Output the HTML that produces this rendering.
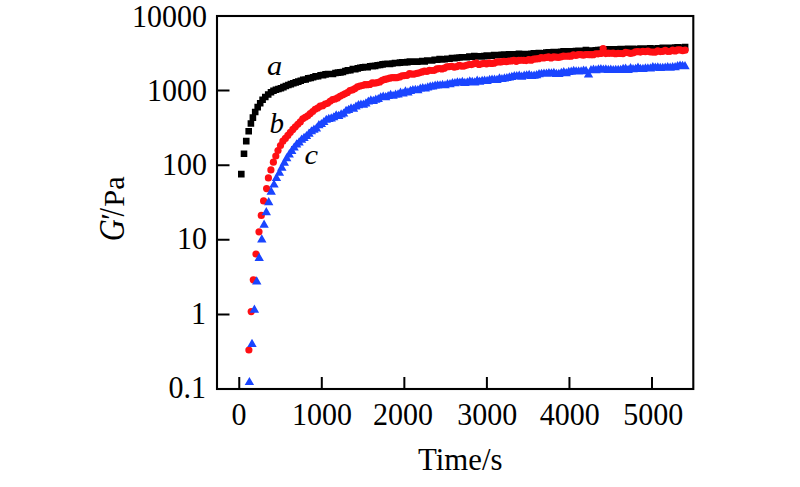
<!DOCTYPE html>
<html><head><meta charset="utf-8"><title>G' vs Time</title>
<style>
html,body{margin:0;padding:0;background:#fff;}
body{width:800px;height:487px;overflow:hidden;}
svg{display:block;}
svg text{font-family:"Liberation Serif",serif;fill:#000;}
</style></head><body>
<svg width="800" height="487" viewBox="0 0 800 487">
<rect width="800" height="487" fill="#fff"/>
<rect x="217" y="16" width="476.29999999999995" height="373" fill="none" stroke="#000" stroke-width="2.1"/>
<path d="M217 90.60h12.5M217 165.20h12.5M217 239.80h12.5M217 314.40h12.5M239.25 389v-12M321.80 389v-12M404.35 389v-12M486.90 389v-12M569.45 389v-12M652.00 389v-12" stroke="#000" stroke-width="2" fill="none"/>
<text transform="translate(207 26.90) scale(1 1.05)" text-anchor="end" font-size="30.0">10000</text>
<text transform="translate(207 101.05) scale(1 1.05)" text-anchor="end" font-size="30.0">1000</text>
<text transform="translate(207 175.20) scale(1 1.05)" text-anchor="end" font-size="30.0">100</text>
<text transform="translate(207 249.35) scale(1 1.05)" text-anchor="end" font-size="30.0">10</text>
<text transform="translate(205.9 323.50) scale(1 1.05)" text-anchor="end" font-size="30.0">1</text>
<text transform="translate(205.9 397.65) scale(1 1.05)" text-anchor="end" font-size="30.0">0.1</text>
<text transform="translate(238.95 425.2) scale(1 1.05)" text-anchor="middle" font-size="30.0">0</text>
<text transform="translate(322.00 425.2) scale(1 1.05)" text-anchor="middle" font-size="30.0">1000</text>
<text transform="translate(402.95 425.2) scale(1 1.05)" text-anchor="middle" font-size="30.0">2000</text>
<text transform="translate(487.20 425.2) scale(1 1.05)" text-anchor="middle" font-size="30.0">3000</text>
<text transform="translate(569.65 425.2) scale(1 1.05)" text-anchor="middle" font-size="30.0">4000</text>
<text transform="translate(653.20 425.2) scale(1 1.05)" text-anchor="middle" font-size="30.0">5000</text>
<text x="460.2" y="469.8" text-anchor="middle" font-size="30.8">Time/s</text>
<g transform="translate(124.2 240.2) rotate(-90)" font-size="30.4"><text transform="scale(1 1.2)" x="-1" y="0" font-style="italic">G</text><text x="18.6" y="-3.5" font-style="italic">′</text><text transform="scale(1 1.2)" x="23.6" y="0">/</text><text x="33.4" y="0">P</text><text x="50.4" y="0">a</text></g>
<text transform="translate(267 75.2) scale(1.05 0.91)" font-size="29" font-style="italic">a</text>
<text x="269.5" y="132.6" font-size="29" font-style="italic">b</text>
<text transform="translate(304.6 163.6) scale(1.05 0.91)" font-size="29" font-style="italic">c</text>
<path d="M238.00 170.80h6.6v6.6h-6.6zM240.70 150.40h6.6v6.6h-6.6zM242.95 137.80h6.6v6.6h-6.6zM245.40 127.90h6.6v6.6h-6.6zM247.60 120.20h6.6v6.6h-6.6zM249.60 114.30h6.6v6.6h-6.6zM251.90 108.70h6.6v6.6h-6.6zM254.40 103.80h6.6v6.6h-6.6zM256.90 99.90h6.6v6.6h-6.6zM259.30 96.40h6.6v6.6h-6.6zM262.00 93.70h6.6v6.6h-6.6zM264.90 91.20h6.6v6.6h-6.6zM267.70 89.00h6.6v6.6h-6.6zM270.18 87.50h6.6v6.6h-6.6zM272.66 86.52h6.6v6.6h-6.6zM275.14 85.73h6.6v6.6h-6.6zM277.62 84.89h6.6v6.6h-6.6zM280.10 83.85h6.6v6.6h-6.6zM282.58 82.73h6.6v6.6h-6.6zM285.06 81.70h6.6v6.6h-6.6zM287.54 80.79h6.6v6.6h-6.6zM290.02 79.91h6.6v6.6h-6.6zM292.50 79.08h6.6v6.6h-6.6zM294.98 78.29h6.6v6.6h-6.6zM297.46 77.38h6.6v6.6h-6.6zM299.94 76.50h6.6v6.6h-6.6zM302.41 76.19h6.6v6.6h-6.6zM304.89 75.03h6.6v6.6h-6.6zM307.37 74.74h6.6v6.6h-6.6zM309.85 73.97h6.6v6.6h-6.6zM312.33 73.12h6.6v6.6h-6.6zM314.81 72.91h6.6v6.6h-6.6zM317.29 71.98h6.6v6.6h-6.6zM319.77 71.79h6.6v6.6h-6.6zM322.25 71.07h6.6v6.6h-6.6zM324.73 70.73h6.6v6.6h-6.6zM327.21 70.68h6.6v6.6h-6.6zM329.69 70.67h6.6v6.6h-6.6zM332.17 69.72h6.6v6.6h-6.6zM334.65 69.30h6.6v6.6h-6.6zM337.13 69.05h6.6v6.6h-6.6zM339.61 68.69h6.6v6.6h-6.6zM342.09 67.77h6.6v6.6h-6.6zM344.57 67.04h6.6v6.6h-6.6zM347.05 66.99h6.6v6.6h-6.6zM349.53 65.76h6.6v6.6h-6.6zM352.01 65.95h6.6v6.6h-6.6zM354.49 65.04h6.6v6.6h-6.6zM356.97 64.50h6.6v6.6h-6.6zM359.45 64.05h6.6v6.6h-6.6zM361.93 63.80h6.6v6.6h-6.6zM364.41 63.80h6.6v6.6h-6.6zM366.89 62.90h6.6v6.6h-6.6zM369.37 62.85h6.6v6.6h-6.6zM371.84 62.53h6.6v6.6h-6.6zM374.32 61.96h6.6v6.6h-6.6zM376.80 61.77h6.6v6.6h-6.6zM379.28 61.05h6.6v6.6h-6.6zM381.76 60.74h6.6v6.6h-6.6zM384.24 60.55h6.6v6.6h-6.6zM386.72 60.63h6.6v6.6h-6.6zM389.20 60.14h6.6v6.6h-6.6zM391.68 59.76h6.6v6.6h-6.6zM394.16 59.69h6.6v6.6h-6.6zM396.64 59.31h6.6v6.6h-6.6zM399.12 58.93h6.6v6.6h-6.6zM401.60 59.09h6.6v6.6h-6.6zM404.08 58.82h6.6v6.6h-6.6zM406.56 58.29h6.6v6.6h-6.6zM409.04 58.42h6.6v6.6h-6.6zM411.52 58.25h6.6v6.6h-6.6zM414.00 58.41h6.6v6.6h-6.6zM416.48 58.17h6.6v6.6h-6.6zM418.96 57.67h6.6v6.6h-6.6zM421.44 58.06h6.6v6.6h-6.6zM423.92 57.17h6.6v6.6h-6.6zM426.40 57.17h6.6v6.6h-6.6zM428.88 57.19h6.6v6.6h-6.6zM431.36 56.44h6.6v6.6h-6.6zM433.84 56.45h6.6v6.6h-6.6zM436.32 55.84h6.6v6.6h-6.6zM438.80 56.08h6.6v6.6h-6.6zM441.27 55.90h6.6v6.6h-6.6zM443.75 55.48h6.6v6.6h-6.6zM446.23 55.46h6.6v6.6h-6.6zM448.71 54.76h6.6v6.6h-6.6zM451.19 54.82h6.6v6.6h-6.6zM453.67 54.50h6.6v6.6h-6.6zM456.15 54.24h6.6v6.6h-6.6zM458.63 53.91h6.6v6.6h-6.6zM461.11 54.01h6.6v6.6h-6.6zM463.59 53.90h6.6v6.6h-6.6zM466.07 53.35h6.6v6.6h-6.6zM468.55 53.36h6.6v6.6h-6.6zM471.03 52.73h6.6v6.6h-6.6zM473.51 53.11h6.6v6.6h-6.6zM475.99 52.94h6.6v6.6h-6.6zM478.47 53.10h6.6v6.6h-6.6zM480.95 52.84h6.6v6.6h-6.6zM483.43 52.30h6.6v6.6h-6.6zM485.91 52.27h6.6v6.6h-6.6zM488.39 52.39h6.6v6.6h-6.6zM490.87 51.76h6.6v6.6h-6.6zM493.35 52.00h6.6v6.6h-6.6zM495.83 51.65h6.6v6.6h-6.6zM498.31 51.48h6.6v6.6h-6.6zM500.79 51.29h6.6v6.6h-6.6zM503.27 51.71h6.6v6.6h-6.6zM505.75 51.05h6.6v6.6h-6.6zM508.23 51.01h6.6v6.6h-6.6zM510.70 51.00h6.6v6.6h-6.6zM513.18 51.27h6.6v6.6h-6.6zM515.66 50.54h6.6v6.6h-6.6zM518.14 50.74h6.6v6.6h-6.6zM520.62 50.73h6.6v6.6h-6.6zM523.10 50.89h6.6v6.6h-6.6zM525.58 50.71h6.6v6.6h-6.6zM528.06 50.61h6.6v6.6h-6.6zM530.54 49.98h6.6v6.6h-6.6zM533.02 49.92h6.6v6.6h-6.6zM535.50 49.71h6.6v6.6h-6.6zM537.98 49.98h6.6v6.6h-6.6zM540.46 49.90h6.6v6.6h-6.6zM542.94 49.13h6.6v6.6h-6.6zM545.42 49.03h6.6v6.6h-6.6zM547.90 48.96h6.6v6.6h-6.6zM550.38 48.85h6.6v6.6h-6.6zM552.86 48.92h6.6v6.6h-6.6zM555.34 48.87h6.6v6.6h-6.6zM557.82 48.45h6.6v6.6h-6.6zM560.30 48.09h6.6v6.6h-6.6zM562.78 48.25h6.6v6.6h-6.6zM565.26 48.05h6.6v6.6h-6.6zM567.74 48.05h6.6v6.6h-6.6zM570.22 48.21h6.6v6.6h-6.6zM572.70 47.87h6.6v6.6h-6.6zM575.18 47.59h6.6v6.6h-6.6zM577.66 47.55h6.6v6.6h-6.6zM580.13 47.47h6.6v6.6h-6.6zM582.61 46.86h6.6v6.6h-6.6zM585.09 47.43h6.6v6.6h-6.6zM587.57 47.24h6.6v6.6h-6.6zM590.05 47.23h6.6v6.6h-6.6zM592.53 47.08h6.6v6.6h-6.6zM595.01 46.67h6.6v6.6h-6.6zM597.49 46.60h6.6v6.6h-6.6zM599.97 46.29h6.6v6.6h-6.6zM602.45 46.64h6.6v6.6h-6.6zM604.93 46.11h6.6v6.6h-6.6zM607.41 46.05h6.6v6.6h-6.6zM609.89 46.09h6.6v6.6h-6.6zM612.37 45.98h6.6v6.6h-6.6zM614.85 46.05h6.6v6.6h-6.6zM617.33 45.75h6.6v6.6h-6.6zM619.81 45.65h6.6v6.6h-6.6zM622.29 45.70h6.6v6.6h-6.6zM624.77 45.60h6.6v6.6h-6.6zM627.25 45.75h6.6v6.6h-6.6zM629.73 45.41h6.6v6.6h-6.6zM632.21 46.03h6.6v6.6h-6.6zM634.69 45.75h6.6v6.6h-6.6zM637.17 45.31h6.6v6.6h-6.6zM639.65 45.31h6.6v6.6h-6.6zM642.13 45.31h6.6v6.6h-6.6zM644.61 45.25h6.6v6.6h-6.6zM647.09 44.97h6.6v6.6h-6.6zM649.56 45.47h6.6v6.6h-6.6zM652.04 45.51h6.6v6.6h-6.6zM654.52 45.00h6.6v6.6h-6.6zM657.00 44.93h6.6v6.6h-6.6zM659.48 44.53h6.6v6.6h-6.6zM661.96 44.46h6.6v6.6h-6.6zM664.44 44.57h6.6v6.6h-6.6zM666.92 44.42h6.6v6.6h-6.6zM669.40 44.79h6.6v6.6h-6.6zM671.88 44.17h6.6v6.6h-6.6zM674.36 43.97h6.6v6.6h-6.6zM676.84 44.63h6.6v6.6h-6.6zM679.32 44.21h6.6v6.6h-6.6zM681.80 43.82h6.6v6.6h-6.6z" fill="#000"/>
<g fill="#ff0f14"><circle cx="248.90" cy="350.00" r="3.6"/><circle cx="251.20" cy="311.60" r="3.6"/><circle cx="253.30" cy="279.80" r="3.6"/><circle cx="256.00" cy="254.00" r="3.6"/><circle cx="259.00" cy="231.80" r="3.6"/><circle cx="261.30" cy="215.40" r="3.6"/><circle cx="263.60" cy="200.90" r="3.6"/><circle cx="266.60" cy="188.60" r="3.6"/><circle cx="268.40" cy="177.90" r="3.6"/><circle cx="270.90" cy="169.90" r="3.6"/><circle cx="273.40" cy="162.20" r="3.6"/><circle cx="275.80" cy="156.00" r="3.6"/><circle cx="278.00" cy="150.50" r="3.6"/><circle cx="280.50" cy="145.50" r="3.6"/><circle cx="282.90" cy="141.20" r="3.6"/><circle cx="285.38" cy="138.40" r="3.6"/><circle cx="287.87" cy="135.47" r="3.6"/><circle cx="290.35" cy="132.33" r="3.6"/><circle cx="292.83" cy="129.41" r="3.6"/><circle cx="295.31" cy="126.78" r="3.6"/><circle cx="297.80" cy="124.29" r="3.6"/><circle cx="300.28" cy="121.95" r="3.6"/><circle cx="302.76" cy="118.81" r="3.6"/><circle cx="305.24" cy="117.36" r="3.6"/><circle cx="307.73" cy="115.81" r="3.6"/><circle cx="310.21" cy="113.53" r="3.6"/><circle cx="312.69" cy="111.52" r="3.6"/><circle cx="315.18" cy="109.31" r="3.6"/><circle cx="317.66" cy="107.98" r="3.6"/><circle cx="320.14" cy="106.15" r="3.6"/><circle cx="322.62" cy="105.69" r="3.6"/><circle cx="325.11" cy="104.06" r="3.6"/><circle cx="327.59" cy="103.31" r="3.6"/><circle cx="330.07" cy="101.29" r="3.6"/><circle cx="332.55" cy="99.58" r="3.6"/><circle cx="335.04" cy="98.99" r="3.6"/><circle cx="337.52" cy="97.89" r="3.6"/><circle cx="340.00" cy="96.36" r="3.6"/><circle cx="342.49" cy="95.00" r="3.6"/><circle cx="344.97" cy="93.79" r="3.6"/><circle cx="347.45" cy="92.48" r="3.6"/><circle cx="349.93" cy="90.52" r="3.6"/><circle cx="352.42" cy="89.88" r="3.6"/><circle cx="354.90" cy="88.53" r="3.6"/><circle cx="357.38" cy="86.97" r="3.6"/><circle cx="359.86" cy="85.99" r="3.6"/><circle cx="362.35" cy="85.50" r="3.6"/><circle cx="364.83" cy="84.66" r="3.6"/><circle cx="367.31" cy="84.64" r="3.6"/><circle cx="369.80" cy="84.40" r="3.6"/><circle cx="372.28" cy="82.96" r="3.6"/><circle cx="374.76" cy="83.13" r="3.6"/><circle cx="377.24" cy="82.60" r="3.6"/><circle cx="379.73" cy="81.91" r="3.6"/><circle cx="382.21" cy="80.33" r="3.6"/><circle cx="384.69" cy="79.46" r="3.6"/><circle cx="387.17" cy="78.85" r="3.6"/><circle cx="389.66" cy="78.19" r="3.6"/><circle cx="392.14" cy="77.61" r="3.6"/><circle cx="394.62" cy="77.71" r="3.6"/><circle cx="397.10" cy="77.60" r="3.6"/><circle cx="399.59" cy="76.96" r="3.6"/><circle cx="402.07" cy="75.85" r="3.6"/><circle cx="404.55" cy="75.61" r="3.6"/><circle cx="407.04" cy="75.33" r="3.6"/><circle cx="409.52" cy="73.69" r="3.6"/><circle cx="412.00" cy="74.12" r="3.6"/><circle cx="414.48" cy="74.04" r="3.6"/><circle cx="416.97" cy="73.37" r="3.6"/><circle cx="419.45" cy="72.84" r="3.6"/><circle cx="421.93" cy="71.94" r="3.6"/><circle cx="424.41" cy="70.98" r="3.6"/><circle cx="426.90" cy="71.47" r="3.6"/><circle cx="429.38" cy="70.25" r="3.6"/><circle cx="431.86" cy="70.50" r="3.6"/><circle cx="434.35" cy="70.29" r="3.6"/><circle cx="436.83" cy="68.91" r="3.6"/><circle cx="439.31" cy="68.49" r="3.6"/><circle cx="441.79" cy="68.96" r="3.6"/><circle cx="444.28" cy="68.21" r="3.6"/><circle cx="446.76" cy="66.95" r="3.6"/><circle cx="449.24" cy="66.53" r="3.6"/><circle cx="451.72" cy="66.23" r="3.6"/><circle cx="454.21" cy="67.10" r="3.6"/><circle cx="456.69" cy="66.63" r="3.6"/><circle cx="459.17" cy="65.27" r="3.6"/><circle cx="461.66" cy="66.07" r="3.6"/><circle cx="464.14" cy="66.04" r="3.6"/><circle cx="466.62" cy="65.25" r="3.6"/><circle cx="469.10" cy="64.49" r="3.6"/><circle cx="471.59" cy="64.54" r="3.6"/><circle cx="474.07" cy="63.62" r="3.6"/><circle cx="476.55" cy="63.19" r="3.6"/><circle cx="479.03" cy="64.49" r="3.6"/><circle cx="481.52" cy="63.76" r="3.6"/><circle cx="484.00" cy="63.37" r="3.6"/><circle cx="486.48" cy="63.85" r="3.6"/><circle cx="488.97" cy="62.90" r="3.6"/><circle cx="491.45" cy="63.44" r="3.6"/><circle cx="493.93" cy="63.21" r="3.6"/><circle cx="496.41" cy="62.06" r="3.6"/><circle cx="498.90" cy="61.94" r="3.6"/><circle cx="501.38" cy="61.80" r="3.6"/><circle cx="503.86" cy="61.47" r="3.6"/><circle cx="506.34" cy="61.77" r="3.6"/><circle cx="508.83" cy="60.99" r="3.6"/><circle cx="511.31" cy="60.99" r="3.6"/><circle cx="513.79" cy="60.30" r="3.6"/><circle cx="516.28" cy="61.35" r="3.6"/><circle cx="518.76" cy="60.28" r="3.6"/><circle cx="521.24" cy="60.27" r="3.6"/><circle cx="523.72" cy="60.29" r="3.6"/><circle cx="526.21" cy="60.61" r="3.6"/><circle cx="528.69" cy="59.62" r="3.6"/><circle cx="531.17" cy="60.16" r="3.6"/><circle cx="533.65" cy="59.20" r="3.6"/><circle cx="536.14" cy="58.95" r="3.6"/><circle cx="538.62" cy="58.64" r="3.6"/><circle cx="541.10" cy="57.57" r="3.6"/><circle cx="543.59" cy="58.01" r="3.6"/><circle cx="546.07" cy="57.39" r="3.6"/><circle cx="548.55" cy="56.92" r="3.6"/><circle cx="551.03" cy="58.01" r="3.6"/><circle cx="553.52" cy="56.83" r="3.6"/><circle cx="556.00" cy="57.12" r="3.6"/><circle cx="558.48" cy="57.32" r="3.6"/><circle cx="560.96" cy="56.82" r="3.6"/><circle cx="563.45" cy="56.20" r="3.6"/><circle cx="565.93" cy="56.25" r="3.6"/><circle cx="568.41" cy="56.05" r="3.6"/><circle cx="570.90" cy="56.17" r="3.6"/><circle cx="573.38" cy="54.86" r="3.6"/><circle cx="575.86" cy="55.38" r="3.6"/><circle cx="578.34" cy="54.70" r="3.6"/><circle cx="580.83" cy="54.57" r="3.6"/><circle cx="583.31" cy="55.20" r="3.6"/><circle cx="585.79" cy="54.61" r="3.6"/><circle cx="588.27" cy="54.53" r="3.6"/><circle cx="590.76" cy="54.66" r="3.6"/><circle cx="593.24" cy="54.71" r="3.6"/><circle cx="595.72" cy="53.76" r="3.6"/><circle cx="598.20" cy="53.84" r="3.6"/><circle cx="600.69" cy="53.51" r="3.6"/><circle cx="603.17" cy="48.59" r="3.6"/><circle cx="605.65" cy="53.61" r="3.6"/><circle cx="608.14" cy="53.16" r="3.6"/><circle cx="610.62" cy="53.23" r="3.6"/><circle cx="613.10" cy="53.08" r="3.6"/><circle cx="615.58" cy="53.76" r="3.6"/><circle cx="618.07" cy="53.30" r="3.6"/><circle cx="620.55" cy="53.51" r="3.6"/><circle cx="623.03" cy="53.53" r="3.6"/><circle cx="625.51" cy="52.36" r="3.6"/><circle cx="628.00" cy="52.75" r="3.6"/><circle cx="630.48" cy="53.28" r="3.6"/><circle cx="632.96" cy="53.02" r="3.6"/><circle cx="635.45" cy="51.80" r="3.6"/><circle cx="637.93" cy="51.68" r="3.6"/><circle cx="640.41" cy="52.09" r="3.6"/><circle cx="642.89" cy="51.39" r="3.6"/><circle cx="645.38" cy="51.55" r="3.6"/><circle cx="647.86" cy="51.17" r="3.6"/><circle cx="650.34" cy="52.00" r="3.6"/><circle cx="652.82" cy="52.06" r="3.6"/><circle cx="655.31" cy="52.12" r="3.6"/><circle cx="657.79" cy="50.80" r="3.6"/><circle cx="660.27" cy="51.56" r="3.6"/><circle cx="662.76" cy="51.32" r="3.6"/><circle cx="665.24" cy="50.34" r="3.6"/><circle cx="667.72" cy="51.37" r="3.6"/><circle cx="670.20" cy="51.34" r="3.6"/><circle cx="672.69" cy="49.98" r="3.6"/><circle cx="675.17" cy="50.99" r="3.6"/><circle cx="677.65" cy="49.93" r="3.6"/><circle cx="680.13" cy="49.91" r="3.6"/><circle cx="682.62" cy="50.55" r="3.6"/><circle cx="685.10" cy="50.13" r="3.6"/></g>
<path d="M244.70 385.10L249.40 376.90L254.10 385.10zM247.30 346.90L252.00 338.70L256.70 346.90zM249.70 312.80L254.40 304.60L259.10 312.80zM252.05 284.40L256.75 276.20L261.45 284.40zM254.50 261.00L259.20 252.80L263.90 261.00zM257.10 242.50L261.80 234.30L266.50 242.50zM259.40 227.70L264.10 219.50L268.80 227.70zM261.60 215.30L266.30 207.10L271.00 215.30zM264.00 205.30L268.70 197.10L273.40 205.30zM266.50 194.70L271.20 186.50L275.90 194.70zM269.30 187.60L274.00 179.40L278.70 187.60zM271.75 181.10L276.45 172.90L281.15 181.10zM274.70 175.85L279.40 167.65L284.10 175.85zM277.10 170.70L281.80 162.50L286.50 170.70zM279.60 165.80L284.30 157.60L289.00 165.80zM282.00 161.30L286.70 153.10L291.40 161.30zM284.50 157.40L289.20 149.20L293.90 157.40zM287.00 153.90L291.70 145.70L296.40 153.90zM289.40 150.60L294.10 142.40L298.80 150.60zM291.90 147.50L296.60 139.30L301.30 147.50zM294.37 145.41L299.07 137.21L303.77 145.41zM296.85 142.70L301.55 134.50L306.25 142.70zM299.32 141.07L304.02 132.87L308.72 141.07zM301.80 139.09L306.50 130.89L311.20 139.09zM304.27 136.64L308.97 128.44L313.67 136.64zM306.74 134.34L311.44 126.14L316.14 134.34zM309.22 132.64L313.92 124.44L318.62 132.64zM311.69 131.48L316.39 123.28L321.09 131.48zM314.16 128.20L318.86 120.00L323.56 128.20zM316.64 127.10L321.34 118.90L326.04 127.10zM319.11 125.12L323.81 116.92L328.51 125.12zM321.59 122.83L326.29 114.63L330.99 122.83zM324.06 122.06L328.76 113.86L333.46 122.06zM326.53 121.49L331.23 113.29L335.93 121.49zM329.01 120.33L333.71 112.13L338.41 120.33zM331.48 118.48L336.18 110.28L340.88 118.48zM333.96 119.01L338.66 110.81L343.36 119.01zM336.43 117.47L341.13 109.27L345.83 117.47zM338.90 116.60L343.60 108.40L348.30 116.60zM341.38 113.84L346.08 105.64L350.78 113.84zM343.85 112.97L348.55 104.77L353.25 112.97zM346.33 111.44L351.03 103.24L355.73 111.44zM348.80 111.65L353.50 103.45L358.20 111.65zM351.27 109.62L355.97 101.42L360.67 109.62zM353.75 108.29L358.45 100.09L363.15 108.29zM356.22 107.77L360.92 99.57L365.62 107.77zM358.69 107.66L363.39 99.46L368.09 107.66zM361.17 106.55L365.87 98.35L370.57 106.55zM363.64 104.61L368.34 96.41L373.04 104.61zM366.12 103.53L370.82 95.33L375.52 103.53zM368.59 104.06L373.29 95.86L377.99 104.06zM371.06 102.63L375.76 94.43L380.46 102.63zM373.54 102.12L378.24 93.92L382.94 102.12zM376.01 100.33L380.71 92.13L385.41 100.33zM378.49 99.63L383.19 91.43L387.89 99.63zM380.96 100.15L385.66 91.95L390.36 100.15zM383.43 99.09L388.13 90.89L392.83 99.09zM385.91 97.87L390.61 89.67L395.31 97.87zM388.38 98.85L393.08 90.65L397.78 98.85zM390.86 97.74L395.56 89.54L400.26 97.74zM393.33 97.49L398.03 89.29L402.73 97.49zM395.80 95.66L400.50 87.46L405.20 95.66zM398.28 96.51L402.98 88.31L407.68 96.51zM400.75 94.53L405.45 86.33L410.15 94.53zM403.22 95.38L407.92 87.18L412.62 95.38zM405.70 94.00L410.40 85.80L415.10 94.00zM408.17 93.17L412.87 84.97L417.57 93.17zM410.65 93.03L415.35 84.83L420.05 93.03zM413.12 93.31L417.82 85.11L422.52 93.31zM415.59 91.78L420.29 83.58L424.99 91.78zM418.07 91.19L422.77 82.99L427.47 91.19zM420.54 91.51L425.24 83.31L429.94 91.51zM423.02 90.54L427.72 82.34L432.42 90.54zM425.49 89.82L430.19 81.62L434.89 89.82zM427.96 89.42L432.66 81.22L437.36 89.42zM430.44 88.73L435.14 80.53L439.84 88.73zM432.91 88.55L437.61 80.35L442.31 88.55zM435.39 88.34L440.09 80.14L444.79 88.34zM437.86 87.93L442.56 79.73L447.26 87.93zM440.33 88.37L445.03 80.17L449.73 88.37zM442.81 87.16L447.51 78.96L452.21 87.16zM445.28 87.20L449.98 79.00L454.68 87.20zM447.75 86.30L452.45 78.10L457.15 86.30zM450.23 86.31L454.93 78.11L459.63 86.31zM452.70 85.44L457.40 77.24L462.10 85.44zM455.18 85.60L459.88 77.40L464.58 85.60zM457.65 84.93L462.35 76.73L467.05 84.93zM460.12 85.98L464.82 77.78L469.52 85.98zM462.60 85.41L467.30 77.21L472.00 85.41zM465.07 84.53L469.77 76.33L474.47 84.53zM467.55 84.83L472.25 76.63L476.95 84.83zM470.02 85.44L474.72 77.24L479.42 85.44zM472.49 83.74L477.19 75.54L481.89 83.74zM474.97 84.80L479.67 76.60L484.37 84.80zM477.44 83.87L482.14 75.67L486.84 83.87zM479.92 83.71L484.62 75.51L489.32 83.71zM482.39 84.03L487.09 75.83L491.79 84.03zM484.86 82.91L489.56 74.71L494.26 82.91zM487.34 82.78L492.04 74.58L496.74 82.78zM489.81 82.78L494.51 74.58L499.21 82.78zM492.28 82.98L496.98 74.78L501.68 82.98zM494.76 81.51L499.46 73.31L504.16 81.51zM497.23 82.08L501.93 73.88L506.63 82.08zM499.71 81.55L504.41 73.35L509.11 81.55zM502.18 81.12L506.88 72.92L511.58 81.12zM504.65 80.41L509.35 72.21L514.05 80.41zM507.13 80.02L511.83 71.82L516.53 80.02zM509.60 79.24L514.30 71.04L519.00 79.24zM512.08 79.14L516.78 70.94L521.48 79.14zM514.55 78.81L519.25 70.61L523.95 78.81zM517.02 79.81L521.72 71.61L526.42 79.81zM519.50 78.72L524.20 70.52L528.90 78.72zM521.97 78.33L526.67 70.13L531.37 78.33zM524.45 77.94L529.15 69.74L533.85 77.94zM526.92 79.03L531.62 70.83L536.32 79.03zM529.39 78.79L534.09 70.59L538.79 78.79zM531.87 78.13L536.57 69.93L541.27 78.13zM534.34 77.15L539.04 68.95L543.74 77.15zM536.81 76.83L541.51 68.63L546.21 76.83zM539.29 76.70L543.99 68.50L548.69 76.70zM541.76 76.81L546.46 68.61L551.16 76.81zM544.24 76.10L548.94 67.90L553.64 76.10zM546.71 76.45L551.41 68.25L556.11 76.45zM549.18 75.96L553.88 67.76L558.58 75.96zM551.66 77.05L556.36 68.85L561.06 77.05zM554.13 76.89L558.83 68.69L563.53 76.89zM556.61 75.93L561.31 67.73L566.01 75.93zM559.08 75.18L563.78 66.98L568.48 75.18zM561.55 76.28L566.25 68.08L570.95 76.28zM564.03 74.89L568.73 66.69L573.43 74.89zM566.50 74.78L571.20 66.58L575.90 74.78zM568.98 73.95L573.68 65.75L578.38 73.95zM571.45 74.46L576.15 66.26L580.85 74.46zM573.92 74.45L578.62 66.25L583.32 74.45zM576.40 74.33L581.10 66.13L585.80 74.33zM578.87 73.61L583.57 65.41L588.27 73.61zM581.34 73.99L586.04 65.79L590.74 73.99zM583.82 77.62L588.52 69.42L593.22 77.62zM586.29 73.23L590.99 65.03L595.69 73.23zM588.77 72.77L593.47 64.57L598.17 72.77zM591.24 73.18L595.94 64.98L600.64 73.18zM593.71 72.40L598.41 64.20L603.11 72.40zM596.19 72.24L600.89 64.04L605.59 72.24zM598.66 72.64L603.36 64.44L608.06 72.64zM601.14 72.41L605.84 64.21L610.54 72.41zM603.61 72.96L608.31 64.76L613.01 72.96zM606.08 72.78L610.78 64.58L615.48 72.78zM608.56 73.10L613.26 64.90L617.96 73.10zM611.03 72.85L615.73 64.65L620.43 72.85zM613.51 72.86L618.21 64.66L622.91 72.86zM615.98 73.05L620.68 64.85L625.38 73.05zM618.45 72.05L623.15 63.85L627.85 72.05zM620.93 71.82L625.63 63.62L630.33 71.82zM623.40 72.88L628.10 64.68L632.80 72.88zM625.87 71.25L630.57 63.05L635.27 71.25zM628.35 72.16L633.05 63.96L637.75 72.16zM630.82 71.88L635.52 63.68L640.22 71.88zM633.30 70.68L638.00 62.48L642.70 70.68zM635.77 71.98L640.47 63.78L645.17 71.98zM638.24 71.96L642.94 63.76L647.64 71.96zM640.72 71.36L645.42 63.16L650.12 71.36zM643.19 71.43L647.89 63.23L652.59 71.43zM645.67 71.45L650.37 63.25L655.07 71.45zM648.14 70.12L652.84 61.92L657.54 70.12zM650.61 70.70L655.31 62.50L660.01 70.70zM653.09 70.55L657.79 62.35L662.49 70.55zM655.56 71.03L660.26 62.83L664.96 71.03zM658.04 70.87L662.74 62.67L667.44 70.87zM660.51 70.80L665.21 62.60L669.91 70.80zM662.98 70.26L667.68 62.06L672.38 70.26zM665.46 70.72L670.16 62.52L674.86 70.72zM667.93 70.24L672.63 62.04L677.33 70.24zM670.40 70.15L675.10 61.95L679.80 70.15zM672.88 69.22L677.58 61.02L682.28 69.22zM675.35 68.76L680.05 60.56L684.75 68.76zM677.83 68.84L682.53 60.64L687.23 68.84zM680.30 69.15L685.00 60.95L689.70 69.15z" fill="#1a45ff"/>
</svg>
</body></html>
